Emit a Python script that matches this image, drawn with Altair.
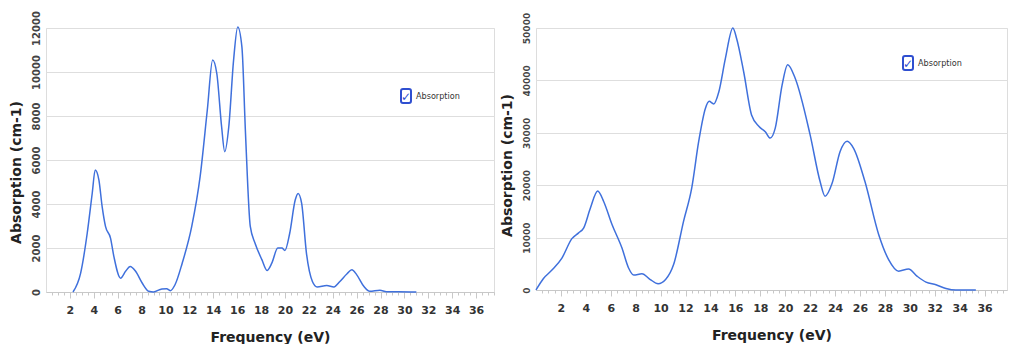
import altair as alt
import pandas as pd

# ---------------- data ----------------
left_freq = [2.26, 2.9, 3.45, 3.87, 4.12, 4.43, 4.7, 4.98, 5.4, 5.68, 6.24, 6.66, 7.05, 7.5,
             8.05, 8.6, 9.0, 9.7, 10.1, 10.4, 10.8, 11.4, 12.2, 12.9, 13.5, 13.95, 14.3,
             14.7, 14.96, 15.3, 15.7, 16.05, 16.4, 16.7, 17.1, 17.5, 18.07, 18.5, 18.9,
             19.4, 19.75, 20.0, 20.4, 20.86, 21.1, 21.4, 21.8, 22.3, 22.7, 23.5, 24.1,
             24.6, 25.2, 25.6, 26.0, 26.6, 27.1, 27.95, 28.5, 29.5, 31.0]
left_abs = [0, 860, 2670, 4490, 5550, 5090, 3880, 2980, 2450, 1620, 630, 940, 1160, 940,
            410, 30, 0, 140, 150, 60, 330, 1310, 2980, 5240, 8260, 10550, 9920,
            7510, 6380, 7510, 10530, 12050, 11130, 7200, 2980, 2220, 1470, 980, 1310,
            2000, 2000, 1890, 2670, 4180, 4480, 4030, 1770, 480, 230, 300, 230,
            480, 830, 1010, 790, 260, 30, 80, 15, 15, 0]

right_freq = [0.0, 0.6, 1.28, 2.08, 2.88, 3.42, 3.82, 4.36, 4.95, 5.43, 6.1, 6.9, 7.43, 7.84,
              8.5, 9.17, 9.8, 10.4, 11.05, 11.85, 12.5, 13.06, 13.6, 13.9, 14.26, 14.67,
              15.2, 15.8, 16.1, 16.67, 17.3, 17.9, 18.4, 18.8, 19.2, 19.75, 20.2, 20.8,
              22.0, 22.8, 23.2, 23.77, 24.4, 24.97, 25.5, 26.4, 27.5, 28.3, 29.1, 29.9,
              30.6, 31.3, 32.1, 32.9, 33.7, 35.3]
right_abs = [0, 2200, 3800, 6100, 9800, 10900, 11800, 15600, 18900, 16900, 12500, 8000, 4200,
             2850, 3100, 2000, 1200, 2000, 4900, 13200, 19500, 28400, 34700, 36000, 35500,
             37800, 44200, 50000, 48000, 41600, 33400, 31200, 30200, 29000, 30900, 39100,
             43000, 40400, 29600, 20700, 17900, 20400, 26400, 28400, 27000, 20700, 10600,
             5800, 3600, 4000, 2600, 1500, 1000, 300, 0, 0]

x_major = list(range(2, 37, 2))
x_all_ticks = [v / 2 for v in range(1, 76)]
left_y_ticks = [0, 2000, 4000, 6000, 8000, 10000, 12000]
right_y_ticks = [0, 10000, 20000, 30000, 40000, 50000]
series_name = "Absorption"
x_title = "Frequency (eV)"
y_title = "Absorption (cm-1)"

LINE = "#3f70dc"
BOX = "#2f4fd0"


def panel(freq, vals, y_ticks, y_max, x_max, w, h, legend_x, legend_y, ylab_size, title_y):
    df = pd.DataFrame({"f": freq, "a": vals})
    x = alt.X("f:Q", title=x_title,
              scale=alt.Scale(domain=[0, x_max], nice=False, zero=False),
              axis=alt.Axis(values=x_all_ticks, labelOverlap=False,
                            labelExpr="(datum.value % 2 == 0 && datum.value > 0) ? format(datum.value, 'd') : ''",
                            tickSize={"condition": {"test": "datum.value % 2 == 0", "value": 6}, "value": 3},
                            tickColor="#c8c8c8", domainColor="#c8c8c8", grid=False,
                            labelFont="DejaVu Sans", labelFontSize=11, labelFontWeight="bold",
                            labelColor="#333333", labelPadding=6, labelFlush=False,
                            titleFont="DejaVu Sans", titleFontSize=14, titleFontWeight="bold",
                            titleColor="#222222", titlePadding=15))
    y = alt.Y("a:Q", title=y_title,
              scale=alt.Scale(domain=[0, y_max], nice=False),
              axis=alt.Axis(values=y_ticks, format="d", labelAngle=270,
                            labelAlign="center", labelBaseline="bottom",
                            tickSize=0, domain=False, gridColor="#dedede",
                            labelFont="DejaVu Sans", labelFontSize=ylab_size,
                            labelFontWeight="bold", labelColor="#444444", labelPadding=5,
                            titleFont="DejaVu Sans", titleFontSize=14, titleFontWeight="bold",
                            titleColor="#222222", titlePadding=8, titleY=title_y))
    line = alt.Chart(df).mark_line(color=LINE, strokeWidth=1.5, interpolate="monotone").encode(x=x, y=y)

    lg = pd.DataFrame({"label": [series_name], "check": ["\u2713"]})
    box = alt.Chart(lg).mark_rect(fill="white", stroke=BOX, strokeWidth=2, cornerRadius=2).encode(
        x=alt.value(legend_x - 5), x2=alt.value(legend_x + 5),
        y=alt.value(legend_y - 7), y2=alt.value(legend_y + 7))
    check = alt.Chart(lg).mark_text(color=BOX, font="DejaVu Sans", fontSize=12,
                                    fontWeight="bold", align="center", baseline="middle").encode(
        x=alt.value(legend_x), y=alt.value(legend_y + 1), text="check:N")
    txt = alt.Chart(lg).mark_text(color="#333333", font="DejaVu Sans Condensed", fontSize=9,
                                  align="left", baseline="middle").encode(
        x=alt.value(legend_x + 10), y=alt.value(legend_y), text="label:N")
    return alt.layer(line, box, check, txt).properties(width=w, height=h)


left = panel(left_freq, left_abs, left_y_ticks, 12000, 37.5, 448, 264, 360, 68, 10, 144)
right = panel(right_freq, right_abs, right_y_ticks, 50000, 37.8, 471, 262, 372, 35, 9, 137)

chart = alt.hconcat(left, right, spacing=4).properties(
    padding={"left": 8, "top": 10, "right": 0, "bottom": 0}
).configure_view(
    fill="#f8f8f8", stroke="#d4d4d4", strokeWidth=1
).configure(background="white")

chart.save("out.html", embed_options={"renderer": "svg", "actions": False})
